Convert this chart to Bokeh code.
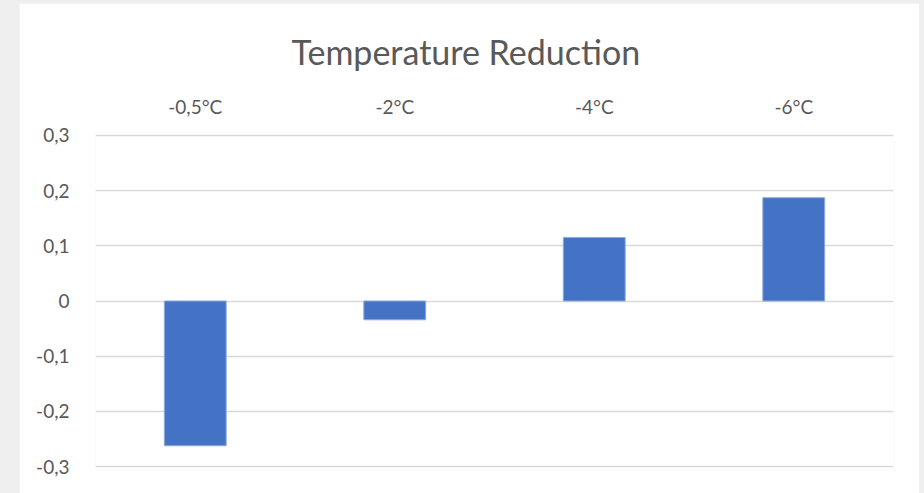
from bokeh.plotting import figure
from bokeh.layouts import column
from bokeh.models import FixedTicker, Range1d
from bokeh.embed import file_html
from bokeh.resources import INLINE

# Data
categories = ["-0,5°C", "-2°C", "-4°C", "-6°C"]
values = [-0.262, -0.034, 0.115, 0.187]
y_ticks = [-0.3, -0.2, -0.1, 0.0, 0.1, 0.2, 0.3]
y_tick_labels = ["-0,3", "-0,2", "-0,1", "0", "0,1", "0,2", "0,3"]
title_text = "Temperature Reduction"

FONT = "Lato"
TEXT_COLOR = "#595959"
BAR_COLOR = "#4472C4"
GRID_COLOR = "#d9d9d9"

p = figure(
    x_range=categories,
    y_range=Range1d(-0.305, 0.305),
    width=900,
    height=490,
    x_axis_location="above",
    output_backend="svg",
    toolbar_location=None,
    title=title_text,
    min_border_left=76,
    min_border_right=26,
    min_border_top=129,
    min_border_bottom=24,
)
p.margin = (3, 5, 0, 19)

p.vbar(x=categories, top=values, bottom=0, width=0.31,
       fill_color=BAR_COLOR, line_color="#8faadc", line_width=1)

# Title, shifted so it is centred on the whole chart area
p.title.align = "left"
p.title.offset = 196
p.title.text_font = FONT
p.title.text_font_size = "34px"
p.title.text_font_style = "normal"
p.title.text_color = TEXT_COLOR
p.title.standoff = 39

# Category axis on top
xa = p.xaxis[0]
xa.axis_line_color = None
xa.major_tick_line_color = None
xa.minor_tick_line_color = None
xa.major_label_text_font = FONT
xa.major_label_text_font_size = "19px"
xa.major_label_text_color = TEXT_COLOR
xa.major_label_standoff = 9

# Value axis
ya = p.yaxis[0]
ya.ticker = FixedTicker(ticks=y_ticks)
ya.major_label_overrides = {t: s for t, s in zip(y_ticks, y_tick_labels)}
ya.axis_line_color = None
ya.major_tick_line_color = None
ya.minor_tick_line_color = None
ya.major_label_text_font = FONT
ya.major_label_text_font_size = "19px"
ya.major_label_text_color = TEXT_COLOR
ya.major_label_standoff = 20

p.xgrid.grid_line_color = None
p.ygrid.grid_line_color = GRID_COLOR
p.ygrid.grid_line_width = 1.5
p.ygrid.ticker = FixedTicker(ticks=y_ticks)

p.outline_line_color = None
p.background_fill_color = "white"
p.border_fill_color = "white"

layout = column(p, styles={"background-color": "#efefef"}, width=924, height=493)

open("out.html", "w").write(file_html(layout, INLINE))
